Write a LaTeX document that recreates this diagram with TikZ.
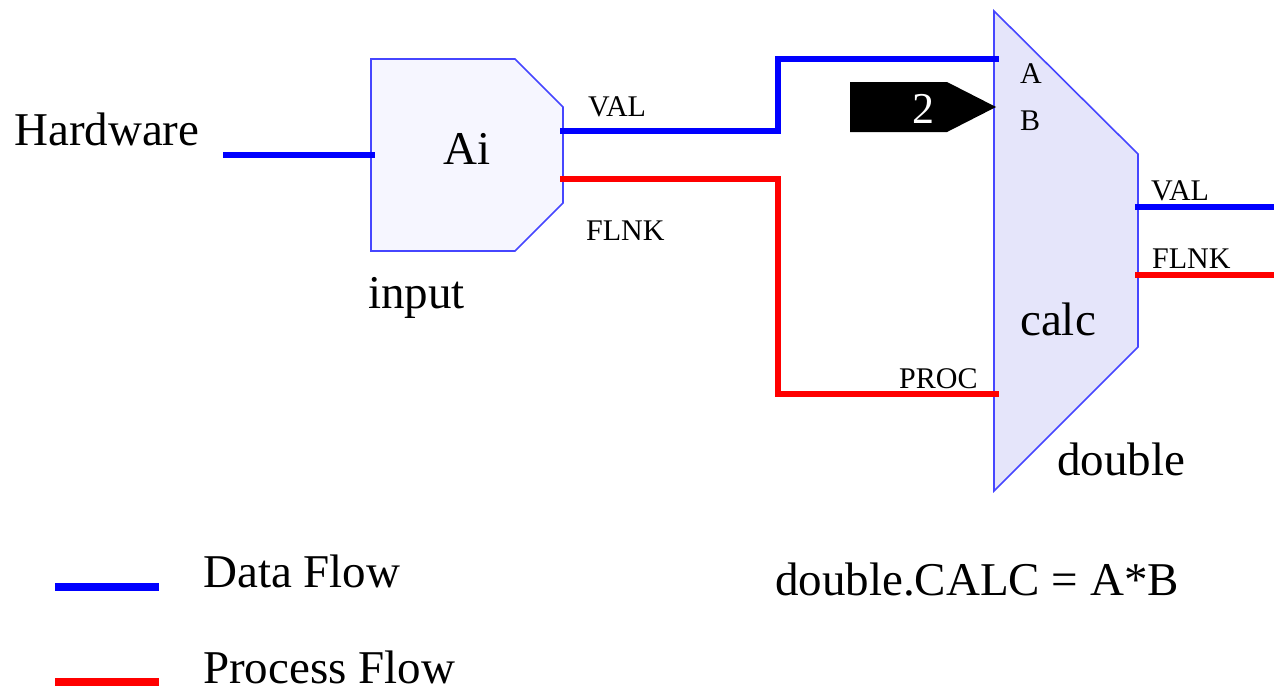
\documentclass[tikz,border=0pt]{standalone}
\usepackage{fontspec}
\setmainfont{Liberation Serif}
\definecolor{dataC}{RGB}{0,0,255}
\definecolor{procC}{RGB}{255,0,0}
\definecolor{recC}{RGB}{70,70,255}
\definecolor{aiFill}{RGB}{246,246,255}
\definecolor{calcFill}{RGB}{229,229,250}
\begin{document}
\begin{tikzpicture}[x=1pt,y=-1pt,
  lbl/.style={anchor=base west,inner sep=0pt,font=\fontsize{47}{50}\selectfont},
  small/.style={anchor=base west,inner sep=0pt,font=\fontsize{30}{32}\selectfont},
  data/.style={draw=dataC,line width=6pt},
  proc/.style={draw=procC,line width=6pt},
  rec/.style={draw=recC,line width=1.6pt}]
\useasboundingbox (0,0) rectangle (1274,686);
% input record (Ai)
\filldraw[rec,fill=aiFill] (371,59) -- (515,59) -- (563,107) -- (563,203) -- (515,251) -- (371,251) -- cycle;
% calc record
\filldraw[rec,fill=calcFill] (994,11) -- (1138,154) -- (1138,347) -- (994,491) -- cycle;
% coordinates
\coordinate (hw) at (223,155);
\coordinate (aiIn) at (375,155);
\coordinate (aiVal) at (560,131);
\coordinate (aiFlnk) at (560,179);
\coordinate (cA) at (999,59);
\coordinate (cProc) at (999,394);
\coordinate (cVal) at (1135,207);
\coordinate (cFlnk) at (1135,275);
\coordinate (outVal) at (1274,207);
\coordinate (outFlnk) at (1274,275);
% connectors
\draw[data] (hw) -- (aiIn);
\draw[data] (aiVal) -- (778,131) -- (778,59) -- (cA);
\draw[proc] (aiFlnk) -- (778,179) -- (778,394) -- (cProc);
\draw[data] (cVal) -- (outVal);
\draw[proc] (cFlnk) -- (outFlnk);
% constant tag
\fill[black] (850,82) -- (947,82) -- (996,107) -- (947,132) -- (850,132) -- cycle;
\node[anchor=base,inner sep=0pt,text=white,font=\fontsize{44}{46}\selectfont] (two) at (923,123) {2};
% labels
\node[lbl] (hwt) at (14,145) {Hardware};
\node[lbl] (ait) at (443,164) {Ai};
\node[lbl] (inp) at (368,308) {input};
\node[small] (v1) at (588,116) {VAL};
\node[small] (f1) at (586,240) {FLNK};
\node[small] (la) at (1020,83) {A};
\node[small] (lb) at (1020,130) {B};
\node[small] (v2) at (1151,200) {VAL};
\node[small] (f2) at (1152,268) {FLNK};
\node[small] (pr) at (899,388) {PROC};
\node[lbl] (calc) at (1020,335) {calc};
\node[lbl] (dbl) at (1057,475) {double};
% legend
\coordinate (l1a) at (55,587);
\coordinate (l1b) at (159,587);
\coordinate (l2a) at (55,682);
\coordinate (l2b) at (159,682);
\draw[data,line width=8pt] (l1a) -- (l1b);
\draw[proc,line width=8pt] (l2a) -- (l2b);
\node[lbl] (df) at (203,587) {Data Flow};
\node[lbl] (pf) at (203,683) {Process Flow};
\node[lbl] (eq) at (775,595) {double.CALC = A*B};
\end{tikzpicture}
\end{document}
